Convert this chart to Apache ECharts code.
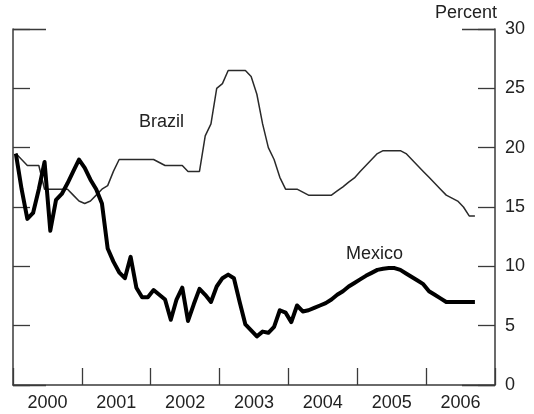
<!DOCTYPE html>
<html>
<head>
<meta charset="utf-8">
<script src="https://cdn.jsdelivr.net/npm/echarts@6/dist/echarts.min.js"></script>
<style>
html,body{margin:0;padding:0;background:#fff;}
#chart{width:534px;height:414px;}
</style>
</head>
<body>
<div id="chart"></div>
<script>
// Monthly observations, Jan 2000 .. Sep 2006 (percent)
var startYear = 2000;
var yearLabels = ['2000','2001','2002','2003','2004','2005','2006'];
var yTicks = [0,5,10,15,20,25,30];

var brazil = [
  19.5,19.0,18.5,18.5,18.5,16.5,16.5,16.5,16.5,16.5,16.0,15.5,
  15.3,15.5,16.0,16.5,16.8,18.0,19.0,19.0,19.0,19.0,19.0,19.0,
  19.0,18.75,18.5,18.5,18.5,18.5,18.0,18.0,18.0,21.0,22.0,25.0,
  25.4,26.5,26.5,26.5,26.5,26.0,24.5,22.0,20.0,19.0,17.5,16.5,
  16.5,16.5,16.25,16.0,16.0,16.0,16.0,16.0,16.35,16.7,17.1,17.45,
  18.0,18.5,19.0,19.5,19.75,19.75,19.75,19.75,19.5,19.0,18.5,18.0,
  17.5,17.0,16.5,16.0,15.75,15.5,15.0,14.25,14.25
];

var mexico = [
  19.5,16.5,14.0,14.5,16.5,18.8,13.0,15.6,16.1,17.0,18.0,19.0,
  18.3,17.3,16.5,15.3,11.5,10.4,9.5,9.0,10.8,8.2,7.4,7.4,
  8.0,7.6,7.2,5.5,7.2,8.2,5.4,6.8,8.1,7.6,7.0,8.3,
  9.0,9.3,9.0,7.0,5.1,4.6,4.1,4.5,4.4,4.9,6.3,6.1,
  5.3,6.7,6.2,6.3,6.5,6.7,6.9,7.2,7.6,7.9,8.3,8.6,
  8.9,9.2,9.45,9.7,9.8,9.85,9.85,9.7,9.4,9.1,8.8,8.5,
  7.9,7.6,7.3,7.0,7.0,7.0,7.0,7.0,7.0
];

function toPairs(arr){
  return arr.map(function(v,i){ return [startYear + (i + 0.5)/12, v]; });
}

var FONT = '"Liberation Sans", Arial, sans-serif';
var FS = 18;
var AXIS_COLOR = '#3a3a3a';
var TEXT_COLOR = '#222';

var chart = echarts.init(document.getElementById('chart'), null, {renderer:'canvas'});
chart.setOption({
  animation:false,
  backgroundColor:'#fff',
  grid:{left:13,right:39,top:29,bottom:29,containLabel:false},
  xAxis:[
    {type:'value',min:startYear,max:startYear+yearLabels.length,interval:1,
     axisLine:{show:true,lineStyle:{color:AXIS_COLOR,width:1.5}},
     axisTick:{show:true,inside:true,length:17,lineStyle:{color:AXIS_COLOR,width:1.3}},
     axisLabel:{show:false},splitLine:{show:false}},
    {type:'category',data:yearLabels,boundaryGap:true,position:'bottom',
     axisLine:{show:false},axisTick:{show:false},
     axisLabel:{show:true,fontSize:FS,color:TEXT_COLOR,fontFamily:FONT,margin:9},
     splitLine:{show:false}}
  ],
  yAxis:[
    {type:'value',position:'right',min:0,max:30,interval:5,
     axisLine:{show:true,lineStyle:{color:AXIS_COLOR,width:1.5}},
     axisTick:{show:true,inside:true,length:17,lineStyle:{color:AXIS_COLOR,width:1.3}},
     axisLabel:{show:true,fontSize:FS,color:TEXT_COLOR,fontFamily:FONT,margin:10},
     splitLine:{show:false},
     name:'Percent',nameLocation:'end',nameGap:7,
     nameTextStyle:{fontSize:FS,color:TEXT_COLOR,fontFamily:FONT,align:'right',padding:[0,-2,0,0]}},
    {type:'value',position:'right',min:0,max:30,interval:30,
     axisLine:{show:false},
     axisTick:{show:true,inside:true,length:33,lineStyle:{color:AXIS_COLOR,width:1.3}},
     axisLabel:{show:false},splitLine:{show:false}},
    {type:'value',position:'left',min:0,max:30,interval:5,
     axisLine:{show:true,lineStyle:{color:AXIS_COLOR,width:1.5}},
     axisTick:{show:true,inside:true,length:17,lineStyle:{color:AXIS_COLOR,width:1.3}},
     axisLabel:{show:false},splitLine:{show:false}},
    {type:'value',position:'left',min:0,max:30,interval:30,
     axisLine:{show:false},
     axisTick:{show:true,inside:true,length:33,lineStyle:{color:AXIS_COLOR,width:1.3}},
     axisLabel:{show:false},splitLine:{show:false}}
  ],
  graphic:[
    {type:'text',left:139,top:113,style:{text:'Brazil',font:FS+'px '+FONT,fill:TEXT_COLOR}},
    {type:'text',left:346,top:245,style:{text:'Mexico',font:FS+'px '+FONT,fill:TEXT_COLOR}}
  ],
  series:[
    {name:'Brazil',type:'line',xAxisIndex:0,yAxisIndex:0,data:toPairs(brazil),
     showSymbol:false,symbol:'none',lineStyle:{color:'#2a2a2a',width:1.5},z:3},
    {name:'Mexico',type:'line',xAxisIndex:0,yAxisIndex:0,data:toPairs(mexico),
     showSymbol:false,symbol:'none',lineStyle:{color:'#000',width:4,join:'round'},z:4}
  ]
});
</script>
</body>
</html>
